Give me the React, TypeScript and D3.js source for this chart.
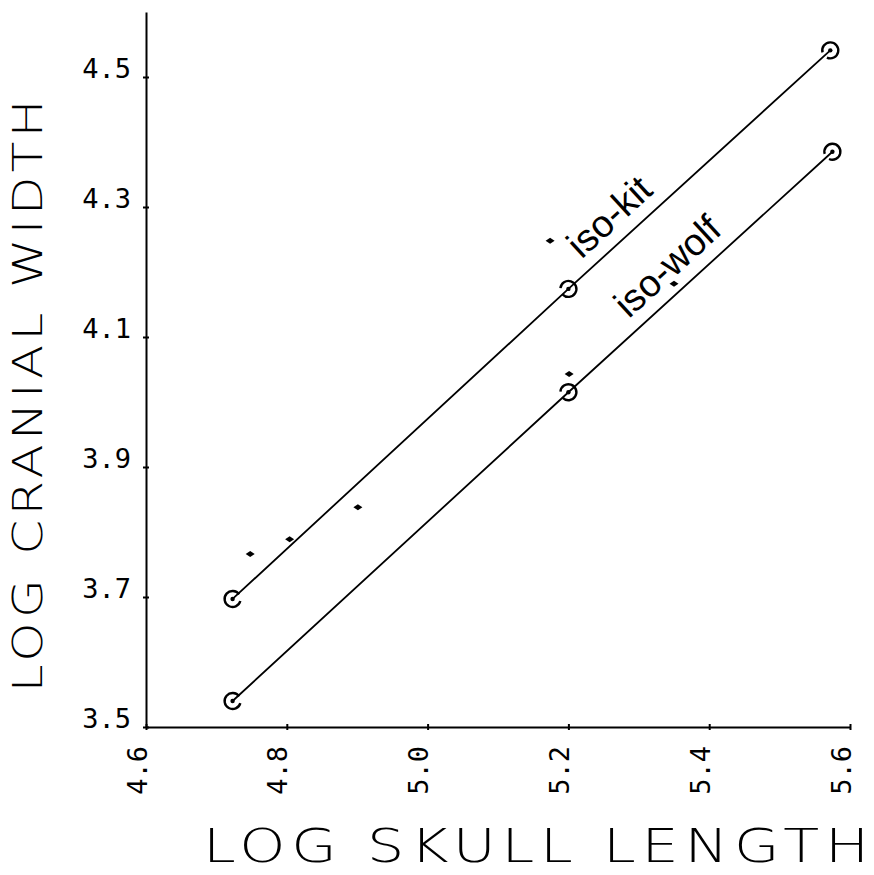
import React, { useEffect, useRef } from "react";
import * as d3 from "d3";

// tick values and their printed labels
const xTicks = [4.6, 4.8, 5.0, 5.2, 5.4, 5.6];
const xTickLabels = ["4.6", "4.8", "5.0", "5.2", "5.4", "5.6"];
const yTicks = [3.5, 3.7, 3.9, 4.1, 4.3, 4.5];
const yTickLabels = ["3.5", "3.7", "3.9", "4.1", "4.3", "4.5"];

// isometric lines (log skull length -> log cranial width)
const isoKitX = [4.723, 5.2, 5.572];
const isoKitY = [3.697, 4.174, 4.541];
const isoWolfX = [4.723, 5.2, 5.575];
const isoWolfY = [3.54, 4.015, 4.385];

// loose observations
const sampleX = [4.748, 4.804, 4.901, 5.174, 5.201, 5.35];
const sampleY = [3.766, 3.789, 3.838, 4.248, 4.043, 4.182];

const lineLabels = ["iso-kit", "iso-wolf"];
const labelAnchorX = [5.232, 5.299];

const W = 874;
const H = 875;

const tickFont = "'DejaVu Sans Mono', monospace";
const titleFont = "'DejaVu Sans', sans-serif";

function AxisLeft({ scale, x }) {
  const ref = useRef(null);
  useEffect(() => {
    if (!ref.current) return;
    const axis = d3
      .axisLeft(scale)
      .tickValues(yTicks)
      .tickSizeOuter(0)
      .tickSizeInner(3)
      .tickFormat((d, i) => yTickLabels[i]);
    const g = d3.select(ref.current).call(axis);
    g.select(".domain").attr("stroke", "#000").attr("stroke-width", 2);
    g.selectAll(".tick line").attr("x1", -3).attr("x2", 3).attr("stroke-width", 2);
    g.selectAll(".tick text")
      .attr("x", -15)
      .attr("dy", "0")
      .attr("font-family", tickFont)
      .attr("font-size", 27)
      .attr("fill", "#000");
  }, [scale]);
  return <g ref={ref} transform={`translate(${x},0)`} fontFamily={tickFont} />;
}

function AxisBottom({ scale, y }) {
  const ref = useRef(null);
  useEffect(() => {
    if (!ref.current) return;
    const axis = d3
      .axisBottom(scale)
      .tickValues(xTicks)
      .tickSizeOuter(0)
      .tickSizeInner(3)
      .tickFormat((d, i) => xTickLabels[i]);
    const g = d3.select(ref.current).call(axis);
    g.select(".domain").attr("stroke", "#000").attr("stroke-width", 2);
    g.selectAll(".tick line").attr("y1", -3).attr("y2", 3).attr("stroke-width", 2);
    g.selectAll(".tick text")
      .attr("x", -19)
      .attr("y", 0)
      .attr("dy", "0")
      .attr("transform", "rotate(-90)")
      .attr("text-anchor", "end")
      .attr("font-family", tickFont)
      .attr("font-size", 27)
      .attr("fill", "#000");
  }, [scale]);
  return <g ref={ref} transform={`translate(0,${y})`} fontFamily={tickFont} />;
}

// open plotter circle with a small gap, plus a centre dot
function RingMark({ cx, cy, gapDeg }) {
  const r = 8;
  const gap = (50 * Math.PI) / 180;
  const c = (gapDeg * Math.PI) / 180;
  const p = d3.path();
  p.arc(cx, cy, r, c + gap / 2, c + 2 * Math.PI - gap / 2);
  return (
    <g>
      <path d={p.toString()} fill="none" stroke="#000" strokeWidth={2.4} />
      <circle cx={cx} cy={cy} r={2.2} fill="#000" />
    </g>
  );
}

function IsoLine({ xs, ys, x, y, label, anchorX }) {
  const line = d3
    .line()
    .x((d) => x(d[0]))
    .y((d) => y(d[1]));
  const pts = xs.map((v, i) => [v, ys[i]]);
  const gaps = [-10, 160, 140];
  const interp = d3.scaleLinear().domain([xs[0], xs[xs.length - 1]]).range([ys[0], ys[ys.length - 1]]);
  const ang =
    (Math.atan2(y(ys[ys.length - 1]) - y(ys[0]), x(xs[xs.length - 1]) - x(xs[0])) * 180) / Math.PI;
  const ax = x(anchorX);
  const ay = y(interp(anchorX));
  return (
    <g>
      <path d={line(pts)} fill="none" stroke="#000" strokeWidth={1.8} />
      {pts.map((d, i) => (
        <RingMark key={i} cx={x(d[0])} cy={y(d[1])} gapDeg={gaps[i]} />
      ))}
      <text
        transform={`translate(${ax},${ay}) rotate(${ang})`}
        y={-14}
        fontFamily="'Liberation Sans', Arial, sans-serif"
        fontSize={38}
        fill="#000"
      >
        {label}
      </text>
    </g>
  );
}

export default function App() {
  const x = d3.scaleLinear().domain([4.6, 5.6]).range([146, 850]);
  const y = d3.scaleLinear().domain([3.5, 4.6]).range([727, 12]);

  return (
    <svg
      width={W}
      height={H}
      style={{ position: "absolute", left: 0, top: 0, background: "#fff" }}
    >
      <rect width={W} height={H} fill="#fff" />
      <AxisLeft scale={y} x={x(4.6)} />
      <AxisBottom scale={x} y={y(3.5)} />

      <IsoLine xs={isoKitX} ys={isoKitY} x={x} y={y} label={lineLabels[0]} anchorX={labelAnchorX[0]} />
      <IsoLine xs={isoWolfX} ys={isoWolfY} x={x} y={y} label={lineLabels[1]} anchorX={labelAnchorX[1]} />

      {sampleX.map((v, i) => (
        <path
          key={i}
          transform={`translate(${x(v)},${y(sampleY[i])})`}
          d="M-4.5,0L0,-3L4.5,0L0,3Z"
          fill="#000"
        />
      ))}

      <text
        transform="translate(42,396) rotate(-90) scale(1.25,1)"
        textAnchor="middle"
        fontFamily={titleFont}
        fontWeight={200}
        fontSize={40}
        textLength={474}
        lengthAdjust="spacing"
        fill="#000"
      >
        LOG CRANIAL WIDTH
      </text>
      <text
        transform="translate(536,862) scale(1.25,1)"
        textAnchor="middle"
        fontFamily={titleFont}
        fontWeight={200}
        fontSize={47}
        textLength={533}
        lengthAdjust="spacing"
        fill="#000"
      >
        LOG SKULL LENGTH
      </text>
    </svg>
  );
}
